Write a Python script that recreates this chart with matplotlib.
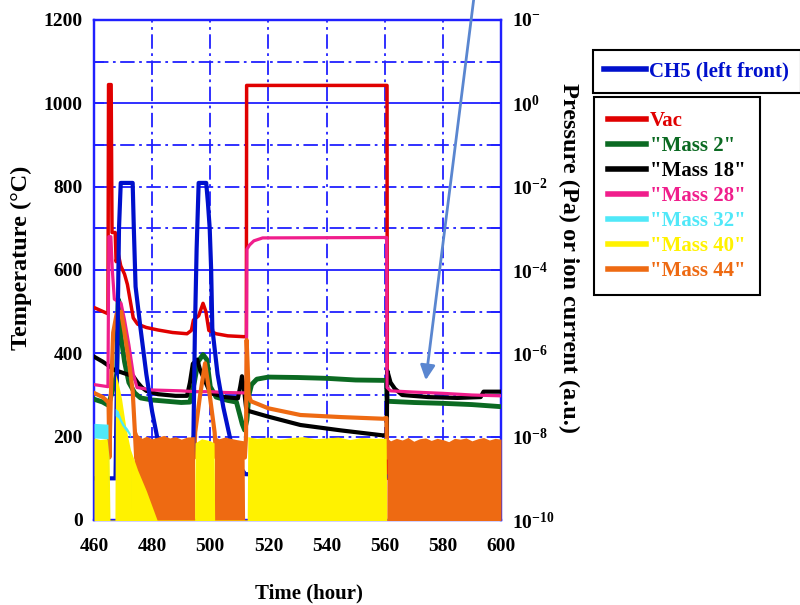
import numpy as np
import matplotlib.pyplot as plt
from matplotlib.ticker import FixedLocator, NullFormatter, MultipleLocator
from matplotlib.lines import Line2D

plt.rcParams["font.family"] = ["Liberation Serif", "DejaVu Serif"]
plt.rcParams["font.weight"] = "bold"
plt.rcParams["mathtext.fontset"] = "custom"
plt.rcParams["mathtext.rm"] = "Liberation Serif:bold"
plt.rcParams["mathtext.it"] = "Liberation Serif:bold"
plt.rcParams["mathtext.bf"] = "Liberation Serif:bold"

# ------------------------------------------------------------
# datos leidos del grafico
# temperatura CH5 en degC, presiones / corrientes como log10
# ------------------------------------------------------------
ch5_h = [460, 467.4, 468.0, 468.6, 469.2, 473.3, 473.7, 474.3, 476, 478, 480, 481.7,
         483, 486, 490, 493.8, 494.2, 494.7, 495.3, 496.0, 498.6, 499.2, 499.8,
         500.3, 500.7, 502.5, 504.5, 506.8, 508, 512, 600]
ch5_t = [100, 100, 400, 700, 809, 809, 700, 560, 460, 350, 260, 200,
         150, 110, 100, 100, 200, 450, 650, 809, 809, 760, 700,
         600, 460, 350, 270, 197, 150, 110, 100]

vac_h = [460, 464.8, 465.0, 465.9, 466.2, 467.3, 467.6, 468.3, 469.2, 470.5, 471.5,
         472.5, 473.5, 475, 478, 482, 487, 492, 493.5, 494.2, 496, 497.5, 498.5,
         499.5, 502, 506, 511.5, 512.4, 512.5, 560.8, 560.9, 561.5]
vac_log = [-4.90, -5.05, 0.45, 0.45, -3.10, -3.10, -3.80, -3.60, -3.90, -4.10, -4.35,
           -4.75, -5.15, -5.30, -5.38, -5.44, -5.50, -5.53, -5.45, -5.20, -5.10, -4.80, -5.00,
           -5.45, -5.53, -5.58, -5.60, -5.60, 0.43, 0.43, -9.0, -9.0]

m2_h = [460, 463, 465, 467.8, 468.3, 468.8, 469.3, 470.5, 472, 474, 476, 480, 485, 490,
        493, 494.5, 495.8, 497.5, 498.8, 500, 502, 506, 509, 511, 511.8, 512.6, 513.3,
        514.2, 516, 520, 530, 540, 550, 560.6, 560.8, 570, 580, 590, 600]
m2_log = [-7.10, -7.17, -7.25, -6.50, -4.70, -4.80, -5.60, -6.20, -6.70, -6.95, -7.07,
          -7.12, -7.15, -7.18, -7.17, -6.70, -6.20, -6.03, -6.15, -6.80, -7.05, -7.13,
          -7.17, -7.70, -7.84, -7.60, -7.00, -6.75, -6.62, -6.57, -6.58, -6.60, -6.64,
          -6.65, -7.15, -7.18, -7.20, -7.23, -7.28]

m18_h = [460, 463, 465.5, 467, 473.5, 475, 476.5, 478, 482, 488, 492, 493, 494, 495.5,
         496.5, 500, 505, 509.5, 510.3, 510.9, 511.5, 512.3, 513, 520, 531, 545, 559.5,
         560.7, 560.9, 562, 563.5, 566, 575, 585, 593, 594, 600]
m18_log = [-6.08, -6.20, -6.32, -6.40, -6.55, -6.70, -6.82, -6.90, -6.98, -7.02, -7.02,
           -6.70, -6.25, -6.15, -6.40, -6.95, -7.05, -7.08, -6.80, -6.55, -6.80, -7.30,
           -7.38, -7.52, -7.72, -7.85, -7.97, -7.95, -6.42, -6.70, -6.85, -7.00, -7.05,
           -7.07, -7.05, -6.92, -6.92]

m28_h = [460, 464.8, 465.1, 465.8, 466.3, 467, 469.3, 470.5, 472, 473.5, 474.8, 480, 490,
         495, 500, 505, 511.8, 512.4, 512.6, 513.5, 515, 518, 560.7, 560.8, 562, 570,
         580, 590, 600]
m28_log = [-6.75, -6.80, -3.20, -3.20, -4.00, -4.70, -4.80, -5.20, -5.80, -6.50, -6.82,
           -6.88, -6.90, -6.92, -6.92, -6.94, -6.95, -6.95, -3.50, -3.40, -3.30, -3.23,
           -3.22, -6.82, -6.90, -6.93, -6.96, -7.00, -7.02]

m44_h = [460, 463, 465, 465.3, 465.8, 466.6, 467.8, 469.3, 470.5, 472, 473.3, 474, 474.5,
         494.5, 494.8, 496.5, 498.2, 499.8, 501.5, 502, 511.9, 512.3, 512.5, 512.8, 513.2,
         514, 520, 531, 545, 559.5, 560.6, 560.8, 600]
m44_log = [-6.95, -7.05, -7.18, -8.50, -7.00, -5.50, -5.05, -5.00, -5.50, -6.20, -6.90,
           -7.80, -8.50, -8.50, -7.90, -7.00, -6.24, -7.00, -7.90, -8.50, -8.50, -8.00,
           -5.68, -6.20, -7.00, -7.15, -7.32, -7.48, -7.53, -7.57, -7.55, -8.50, -8.50]

# bandas de ruido (borde superior, log10)
m44_band_h = [473.6, 473.8, 475, 476.5, 478, 480, 482, 484, 486, 488, 490, 492, 494.5,
              494.7, 501.3, 501.5, 503, 505, 507, 509, 511.6, 511.8, 560.7, 560.8,
              562, 564, 566, 568, 570, 572, 574, 576, 578, 580, 582, 584, 586, 588,
              590, 592, 594, 596, 598, 600]
m44_band = [-10.0, -7.70, -7.95, -8.04, -7.99, -8.05, -8.01, -7.97, -8.03, -8.00, -8.06,
            -8.01, -8.00, -10.0, -10.0, -8.00, -8.05, -8.01, -8.04, -8.07, -8.10, -10.0,
            -10.0, -8.03, -8.10, -8.04, -8.08, -8.02, -8.11, -8.05, -8.03, -8.09, -8.04,
            -8.07, -8.12, -8.04, -8.06, -8.03, -8.10, -8.05, -8.02, -8.08, -8.04, -8.06]

m40_band_h = [460, 462, 464.5, 465.2, 465.5, 467.2, 467.4, 468.3, 469.5, 471, 472.5, 475,
              478, 481.7, 494.6, 494.8, 497, 500, 501.3, 501.5, 512.7, 512.9, 516, 520,
              524, 528, 532, 536, 540, 544, 548, 552, 556, 560.5, 560.7]
m40_band = [-8.03, -8.07, -8.05, -8.50, -10.0, -10.0, -6.50, -6.70, -7.10, -7.80, -8.30,
            -8.80, -9.30, -10.0, -10.0, -8.15, -8.05, -8.10, -8.15, -10.0, -10.0, -8.00,
            -8.04, -8.01, -8.06, -8.02, -8.00, -8.05, -8.03, -8.01, -8.07, -8.02, -8.04,
            -8.04, -10.0]

m32_band_h = [460, 464.8, 465.1, 467.2, 467.3, 468.3, 469.5, 470.5, 471.5, 472.5, 472.7]
m32_top = [-7.68, -7.70, -10.0, -10.0, -7.32, -7.38, -7.60, -7.72, -7.80, -7.92, -10.0]
m32_bot = [-8.03, -8.05, -10.0, -10.0, -7.50, -7.55, -7.72, -7.82, -7.90, -8.02, -10.0]

arrow_desde = (590.8, 1260)
arrow_hasta = (574, 329)

# colores
c_ch5 = "#0010cc"
c_vac = "#e00000"
c_m2 = "#0b6a22"
c_m18 = "#000000"
c_m28 = "#f01e8c"
c_m32 = "#50e8f8"
c_m40 = "#fff200"
c_m44 = "#ee6a12"
c_grid = "#2020ff"

# ------------------------------------------------------------
# figura
# ------------------------------------------------------------
fig = plt.figure(figsize=(8, 6.05), dpi=100)
ax1 = fig.add_axes([94 / 800, 85 / 605, 407 / 800, 500 / 605])
ax2 = ax1.twinx()

# rejilla
ddot = (0, (8, 2.5, 1.5, 2.5))
for yv in range(200, 1200, 100):
    ls = "-" if yv in (600, 1000) else ddot
    ax1.axhline(yv, color=c_grid, lw=1.3, ls=ls, zorder=0.5)
for xv in range(480, 600, 20):
    ax1.axvline(xv, color=c_grid, lw=1.3, ls=ddot, zorder=0.5)

# curvas de gases (eje derecho)
def p(v):
    return 10.0 ** np.array(v)

ax2.plot(vac_h, p(vac_log), color=c_vac, lw=2.5, zorder=3)
ax2.plot(m2_h, p(m2_log), color=c_m2, lw=3.5, zorder=3)
ax2.plot(m18_h, p(m18_log), color=c_m18, lw=3.0, zorder=3)
ax2.plot(m28_h, p(m28_log), color=c_m28, lw=2.3, zorder=3)
ax2.plot(m44_h, p(m44_log), color=c_m44, lw=3.0, zorder=3)

# CH5 con la escala del eje izquierdo
ax2.plot(ch5_h, ch5_t, color=c_ch5, lw=3.0, zorder=4, transform=ax1.transData)

# ruido
ax2.fill_between(m44_band_h, 1e-11, p(m44_band), color=c_m44, lw=0, zorder=5)
ax2.fill_between(m40_band_h, 1e-11, p(m40_band), color=c_m40, lw=0, zorder=6)
ax2.fill_between(m32_band_h, p(m32_bot), p(m32_top), color=c_m32, lw=0, zorder=7)

# ejes
ax1.set_xlim(460, 600)
ax1.set_ylim(0, 1200)
ax2.set_yscale("log")
ax2.set_ylim(1e-10, 1e2)
ax2.set_xlim(460, 600)

ax1.set_xticks(range(460, 601, 20))
ax1.set_yticks(range(0, 1201, 200))
ax1.yaxis.set_minor_locator(MultipleLocator(100))
ax1.tick_params(axis="both", which="both", direction="in", colors=c_grid,
                labelcolor="black", labelsize=14, width=1.3)
ax1.tick_params(axis="x", which="major", length=7, pad=13)
ax1.tick_params(axis="y", which="major", length=7, pad=8)
ax1.tick_params(axis="y", which="minor", length=7)

dec = [1e-10, 1e-8, 1e-6, 1e-4, 1e-2, 1e0, 1e2]
dec_lbl = ["$10^{-10}$", "$10^{-8}$", "$10^{-6}$", "$10^{-4}$", "$10^{-2}$", "$10^{0}$", "$10^{-}$"]
ax2.yaxis.set_major_locator(FixedLocator(dec))
ax2.set_yticklabels(dec_lbl)
ax2.yaxis.set_minor_locator(FixedLocator([1e-9, 1e-7, 1e-5, 1e-3, 1e-1, 1e1]))
ax2.yaxis.set_minor_formatter(NullFormatter())
ax2.tick_params(axis="y", which="both", direction="in", colors=c_grid,
                labelcolor="black", labelsize=14, width=1.3, length=7, pad=8)

for a in (ax1, ax2):
    for s in a.spines.values():
        s.set_color(c_grid)
        s.set_linewidth(1.6)

ax1.set_xlabel("Time (hour)", fontsize=15, fontweight="bold")
ax1.xaxis.set_label_coords(0.528, -0.126)
ax1.set_ylabel("Temperature (\u00b0C)", fontsize=17.5, fontweight="bold")
ax1.yaxis.set_label_coords(-0.152, 0.524)
ax2.set_ylabel("Pressure (Pa) or ion current (a.u.)", fontsize=17.5, fontweight="bold",
               rotation=270, va="bottom")
ax2.yaxis.set_label_coords(1.14, 0.524)

# flecha
ax2.annotate("", xy=arrow_hasta, xycoords=ax1.transData,
             xytext=arrow_desde, textcoords=ax1.transData,
             arrowprops=dict(arrowstyle="-|>", color="#5a86d0", lw=2.0, mutation_scale=22),
             annotation_clip=False, zorder=10)

# leyendas
leg1 = fig.legend([Line2D([], [], color=c_ch5, lw=4)], ["CH5 (left front)"],
                  loc="upper left", bbox_to_anchor=(593 / 800, 1 - 50 / 605),
                  borderaxespad=0, fancybox=False, edgecolor="black", framealpha=1,
                  fontsize=15, handlelength=2.0, handletextpad=0.15, borderpad=0.55,
                  labelcolor=[c_ch5])
leg1.get_frame().set_linewidth(1.5)

nombres = ["Vac", '"Mass 2"', '"Mass 18"', '"Mass 28"', '"Mass 32"', '"Mass 40"', '"Mass 44"']
colores = [c_vac, c_m2, c_m18, c_m28, c_m32, c_m40, c_m44]
handles = [Line2D([], [], color=c, lw=4) for c in colores]
leg2 = fig.legend(handles, nombres, loc="upper left",
                  bbox_to_anchor=(594 / 800, 1 - 97 / 605),
                  borderaxespad=0, fancybox=False, edgecolor="black", framealpha=1,
                  fontsize=15, handlelength=1.8, handletextpad=0.2, borderpad=0.68,
                  labelspacing=0.24, labelcolor=colores)
leg2.get_frame().set_linewidth(1.5)

fig.savefig("out.png", dpi=100)
